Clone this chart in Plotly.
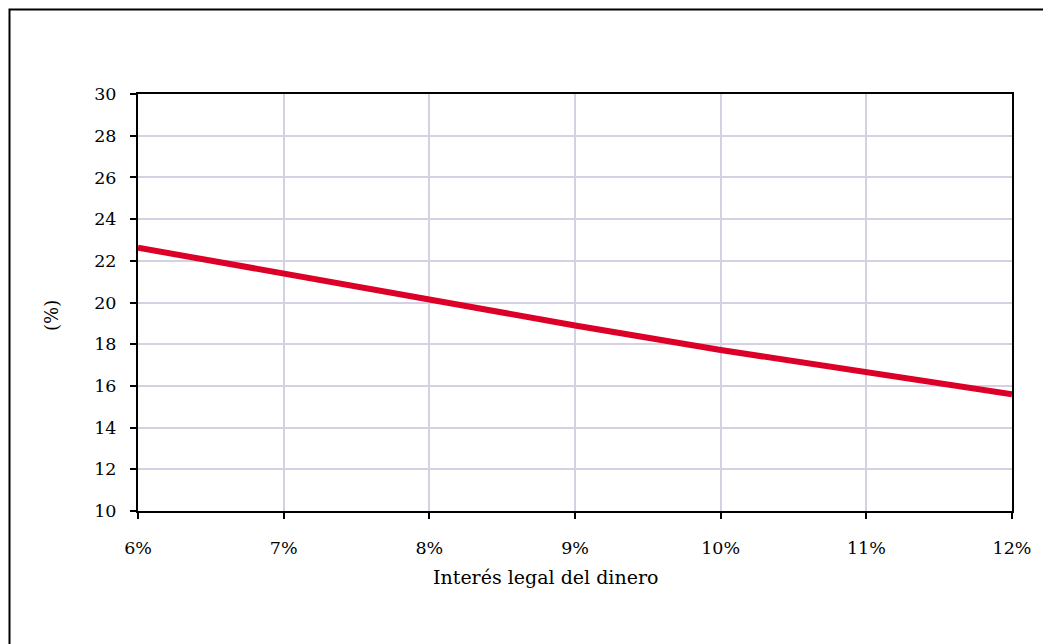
import plotly.graph_objects as go

interest = [0.06, 0.07, 0.08, 0.09, 0.10, 0.11, 0.12]
values = [22.63, 21.37, 20.17, 18.90, 17.72, 16.65, 15.60]
x_ticks = [0.06, 0.07, 0.08, 0.09, 0.10, 0.11, 0.12]
x_ticktext = ["6%", "7%", "8%", "9%", "10%", "11%", "12%"]
y_ticks = [10, 12, 14, 16, 18, 20, 22, 24, 26, 28, 30]

OFF = 8  # page body margin
W, H = 1051 - OFF, 644 - OFF
L, R, T, B = 138, 1012, 94, 511  # plot area in page pixels

fig = go.Figure()
fig.add_trace(go.Scatter(
    x=interest, y=values, mode="lines",
    line=dict(color="#dc0028", width=6),
    showlegend=False, hoverinfo="skip",
))

axis_common = dict(
    showline=True, linecolor="black", linewidth=2, mirror=True,
    ticks="outside", ticklen=6, tickwidth=1.5, tickcolor="black",
    showgrid=True, gridcolor="#d6d0e4", gridwidth=1.5, zeroline=False,
    tickfont=dict(family="DejaVu Serif", size=17.5, color="black"),
)

fig.update_layout(
    width=W, height=H,
    margin=dict(l=L - OFF, r=W - (R - OFF), t=T - OFF, b=H - (B - OFF), autoexpand=False),
    paper_bgcolor="white", plot_bgcolor="white",
    xaxis=dict(range=[0.06, 0.12], tickvals=x_ticks, ticktext=x_ticktext,
               ticklabelstandoff=14, **axis_common),
    yaxis=dict(range=[10, 30], tickvals=y_ticks, ticklabelstandoff=10,
               **axis_common),
)

pw, ph = R - L, B - T
def px_x(v):
    return (v - L) / pw
def px_y(v):
    return (B - v) / ph

fig.add_annotation(text="Interés legal del dinero", xref="paper", yref="paper",
                   x=px_x(545), y=px_y(577), showarrow=False,
                   xanchor="center", yanchor="middle",
                   font=dict(family="DejaVu Serif", size=19, color="black"))
fig.add_annotation(text="(%)", xref="paper", yref="paper",
                   x=px_x(51), y=px_y(316), showarrow=False, textangle=-90,
                   xanchor="center", yanchor="middle",
                   font=dict(family="DejaVu Serif", size=18, color="black"))

fig.add_shape(type="rect", xref="paper", yref="paper",
              x0=px_x(9.5), x1=px_x(1048.5), y0=px_y(660), y1=px_y(9.5),
              line=dict(color="black", width=2), fillcolor="rgba(0,0,0,0)", layer="below")

fig.write_html("out.html")
